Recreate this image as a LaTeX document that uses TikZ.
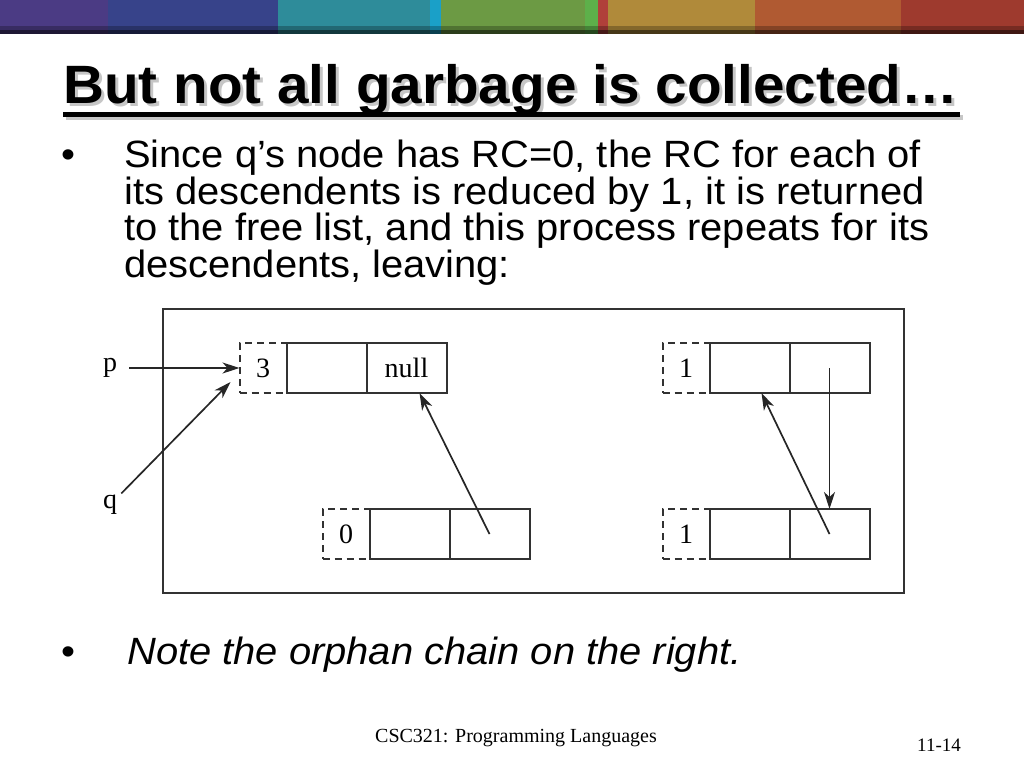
\documentclass[tikz,border=0pt]{standalone}
\usepackage{fontspec}
\usepackage{xcolor}
\usepackage{tikz}
\usetikzlibrary{arrows.meta, positioning}
\setmainfont{Liberation Sans}
\newfontfamily\slidefont[FakeStretch=1.05]{Liberation Sans}
\newfontfamily\timesfont{Liberation Serif}
\definecolor{bandpurple}{RGB}{75, 59, 132}
\definecolor{bandblue}{RGB}{55, 67, 138}
\definecolor{bandteal}{RGB}{46, 140, 154}
\definecolor{bandcyan}{RGB}{26, 160, 200}
\definecolor{bandgreen}{RGB}{108, 154, 68}
\definecolor{bandlime}{RGB}{93, 176, 74}
\definecolor{bandred}{RGB}{176, 64, 58}
\definecolor{bandgold}{RGB}{176, 138, 58}
\definecolor{bandorange}{RGB}{176, 90, 50}
\definecolor{bandrust}{RGB}{158, 58, 46}
\definecolor{inkgray}{RGB}{50, 50, 50}

\begin{document}
\begin{tikzpicture}[
    x=1pt, y=-1pt,
    cell/.style={rectangle, draw=inkgray, line width=2pt, minimum width=80pt, minimum height=50pt, inner sep=0pt, outer sep=0pt, font=\timesfont\fontsize{28}{28}\selectfont},
    rcbox/.style={cell, dashed, dash pattern=on 7pt off 5pt, minimum width=47pt},
    lbl/.style={inner sep=2pt, font=\timesfont\fontsize{28}{28}\selectfont},
    arrow/.style={-{Stealth[length=17pt, width=11pt, inset=5pt]}, line width=1.7pt, draw=black!85, fill=black!85}
]
\useasboundingbox (0,0) rectangle (1024,768);

% Colour band
\foreach \xa/\xb/\col in {0/108/bandpurple, 108/278/bandblue, 278/430/bandteal, 430/441/bandcyan, 441/585/bandgreen, 585/598/bandlime, 598/608/bandred, 608/755/bandgold, 755/901/bandorange, 901/1024/bandrust}
    \fill[\col] (\xa,0) rectangle (\xb,34);
\fill[black, opacity=0.25] (0,26) rectangle (1024,30);
\fill[black, opacity=0.6] (0,30) rectangle (1024,34);

% Title
\node[anchor=base west, inner sep=0pt, gray!45, font=\slidefont\bfseries\fontsize{54}{54}\selectfont] (titleshadow) at (66,106) {But not all garbage is collected…};
\fill[gray!45] (66,115) rectangle (963,120);
\node[anchor=base west, inner sep=0pt, font=\slidefont\bfseries\fontsize{54}{54}\selectfont] (title) at (63,103) {But not all garbage is collected…};
\fill[black] (63,112) rectangle (960,117);

% Bullets
\node[anchor=base, inner sep=0pt, font=\slidefont\fontsize{38}{33}\selectfont] (dot1) at (68,167) {•};
\node[anchor=north west, inner sep=0pt, align=left, font=\slidefont\fontsize{38}{33}\selectfont] (body) at (124,140) {Since q’s node has RC=0, the RC for each of\\its descendents is reduced by 1, it is returned\\to the free list, and this process repeats for its\\descendents, leaving:};

\node[anchor=base, inner sep=0pt, font=\slidefont\fontsize{38}{33}\selectfont] (dot2) at (68,664) {•};
\node[anchor=base west, inner sep=0pt, font=\slidefont\itshape\fontsize{38}{33}\selectfont] (note) at (127,664) {Note the orphan chain on the right.};

% Diagram frame
\draw[inkgray, line width=2pt] (163,309) rectangle (904,593);

% Records
\node[rcbox] (a0) at (263,368) {3};
\node[cell, right=0pt of a0] (a1) {};
\node[cell, right=0pt of a1] (a2) {null};

\node[rcbox] (b0) at (346,534) {0};
\node[cell, right=0pt of b0] (b1) {};
\node[cell, right=0pt of b1] (b2) {};

\node[rcbox] (c0) at (686,368) {1};
\node[cell, right=0pt of c0] (c1) {};
\node[cell, right=0pt of c1] (c2) {};

\node[rcbox] (d0) at (686,534) {1};
\node[cell, right=0pt of d0] (d1) {};
\node[cell, right=0pt of d1] (d2) {};

% Pointers
\node[lbl] (p) at (110,368) {p};
\node[lbl] (q) at (110,505) {q};

\draw[arrow, shorten <=10pt] (p) -- (a0);
\draw[arrow, shorten <=3pt] (q) -- ([xshift=-9pt, yshift=-14pt]a0.west);
\draw[arrow] (b2.center) -- ([xshift=13pt]a2.south);
\draw[arrow] (c2.center) -- (d2.north);
\draw[arrow] (d2.center) -- ([xshift=12pt]c1.south);

% Footer
\node[anchor=base, inner sep=0pt, font=\timesfont\fontsize{20}{20}\selectfont] (footer) at (516,742) {CSC321: Programming Languages};
\node[anchor=base west, inner sep=0pt, font=\timesfont\fontsize{19}{19}\selectfont] (pageno) at (917,751) {11-14};

\end{tikzpicture}
\end{document}
